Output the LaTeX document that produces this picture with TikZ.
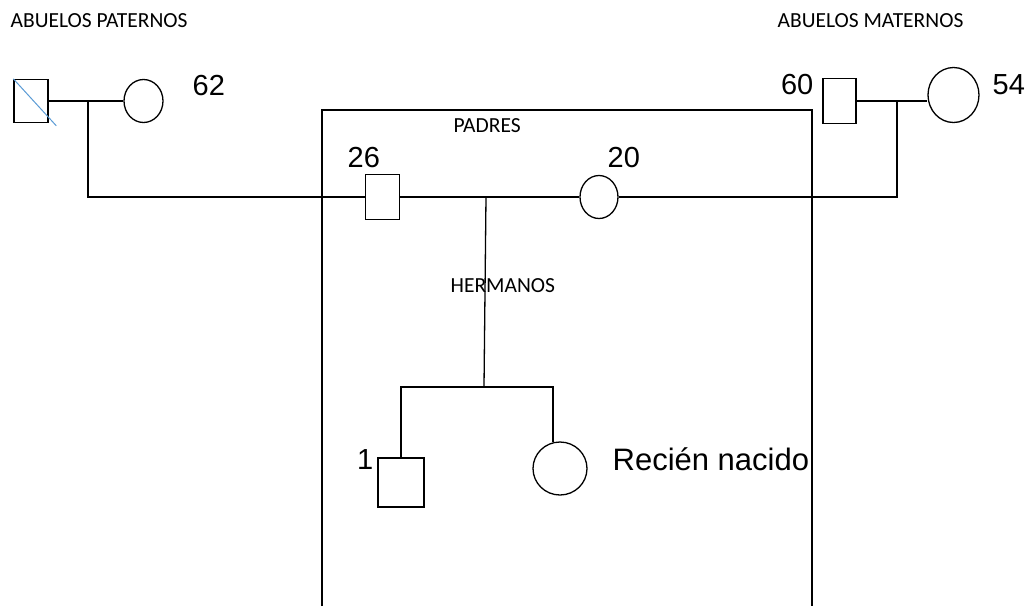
\documentclass[tikz,border=0pt]{standalone}
\usepackage{fontspec}
\setmainfont{Liberation Sans}
\newfontfamily\calibri{Carlito}
\usetikzlibrary{shapes.geometric}
\definecolor{azul}{RGB}{91,155,213}

\begin{document}
\begin{tikzpicture}[x=1pt,y=-1pt,line width=1.3pt,
 varon/.style={draw,rectangle,inner sep=0pt},
 mujer/.style={draw,ellipse,inner sep=0pt},
 rotulo/.style={inner sep=0pt,anchor=base west,font=\calibri\fontsize{21.5}{25}\selectfont},
 edad/.style={inner sep=0pt,font=\fontsize{29}{34}\selectfont},
 marco/.style={line width=1.7pt}]
\useasboundingbox (0,0) rectangle (1026,606);
% abuelos
\node[varon,minimum width=34pt,minimum height=43pt] (abuelo1) at (31,101) {};
\node[mujer,minimum width=39pt,minimum height=43pt] (abuela1) at (143.5,101) {};
\node[varon,minimum width=33pt,minimum height=45pt] (abuelo2) at (839.5,101) {};
\node[mujer,minimum width=51pt,minimum height=55pt] (abuela2) at (953.5,95) {};
% padres e hijos
\node[varon,minimum width=34pt,minimum height=45pt] (padre) at (382.5,197) {};
\node[mujer,minimum width=38pt,minimum height=43pt] (madre) at (599,197) {};
\node[varon,minimum width=46pt,minimum height=49pt] (hermano) at (401,482.5) {};
\node[mujer,minimum width=54pt,minimum height=53pt] (hermana) at (560,468.5) {};
\coordinate (lado1) at (88,101);
\coordinate (lado2) at (897,101);
\coordinate (union) at (486,197);
\coordinate (barra) at (484,387);
% textos
\node[rotulo] (tpaternos) at (10,27) {ABUELOS PATERNOS};
\node[rotulo] (tmaternos) at (777,27) {ABUELOS MATERNOS};
\node[rotulo] (tpadres) at (453,132) {PADRES};
\node[rotulo] (thermanos) at (450,292) {HERMANOS};
\node[edad,anchor=base west] (e62) at (192,95) {62};
\node[edad,anchor=base east] (e60) at (814,94) {60};
\node[edad,anchor=base west] (e54) at (992,94) {54};
\node[edad,anchor=base west] (e26) at (347,167) {26};
\node[edad,anchor=base west] (e20) at (607,167) {20};
\node[edad,anchor=base east] (e1) at (374,469) {1};
\node[edad,anchor=base west,font=\fontsize{31}{36}\selectfont] (trn) at (612,470) {Recién nacido};
% lineas
\draw[marco] (322,606) |- (812,110) -- (812,606);
\draw[azul,line width=1pt] (abuelo1.north west) -- ++(43,47);
\draw (abuelo1) -- (abuela1);
\draw (abuelo2) -- (abuela2.west |- abuelo2);
\draw (lado1) |- (padre.west);
\draw (padre) -- (madre);
\draw (madre.east) -| (lado2);
\draw (union) -- (barra);
\draw (hermano.north) |- (barra) -| (hermana.105);
\end{tikzpicture}
\end{document}
